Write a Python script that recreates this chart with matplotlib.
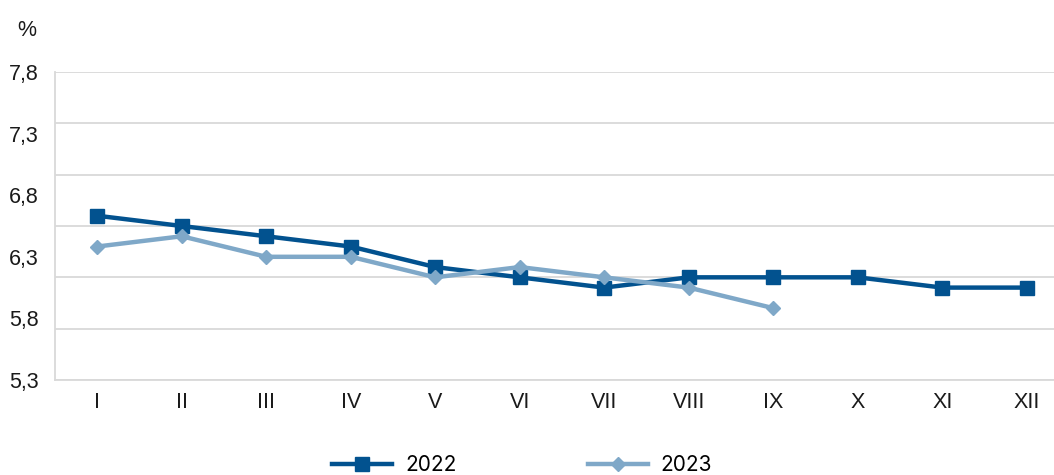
import numpy as np
import matplotlib
matplotlib.use("Agg")
import matplotlib.pyplot as plt

months = ["I", "II", "III", "IV", "V", "VI", "VII", "VIII", "IX", "X", "XI", "XII"]
values_2022 = [6.4, 6.3, 6.2, 6.1, 5.9, 5.8, 5.7, 5.8, 5.8, 5.8, 5.7, 5.7]
values_2023 = [6.1, 6.2, 6.0, 6.0, 5.8, 5.9, 5.8, 5.7, 5.5]
grid_values = [4.8, 5.3, 5.8, 6.3, 6.8, 7.3, 7.8]
y_tick_labels = ["5,3", "5,8", "6,3", "6,8", "7,3", "7,8"]

plt.rcParams['font.family'] = ['Liberation Sans', 'DejaVu Sans']

W, H = 1054, 475
fig = plt.figure(figsize=(W / 100, H / 100), dpi=100)
ax = fig.add_axes([55 / W, 1 - 380 / H, (1069 - 55) / W, (380 - 72) / H])

x = np.arange(len(months))
c22 = '#02528f'
c23 = '#7fa8c8'
ax.plot(x, values_2022, color=c22, lw=3.2, marker='s', ms=10, label='2022', zorder=3)
ax.plot(x[:len(values_2023)], values_2023, color=c23, lw=3.2, marker='D', ms=7.2, label='2023', zorder=4)

ax.set_xlim(-0.5, len(months) - 0.5)
ax.set_ylim(grid_values[0], grid_values[-1])
ax.yaxis.remove_overlapping_locs = False
ax.set_xticks(x, months)
ax.set_yticks(grid_values, [''] * len(grid_values))
ax.set_yticks(np.linspace(grid_values[0], grid_values[-1], len(y_tick_labels)), y_tick_labels, minor=True)
ax.grid(axis='y', which='major', color='#d9d9d9', lw=1.3)
ax.tick_params(axis='both', which='both', length=0, labelsize=15.5, colors='#1a1a1a')
ax.tick_params(axis='y', which='minor', pad=12)
ax.tick_params(axis='x', pad=9)
for s in ['top', 'right']:
    ax.spines[s].set_visible(False)
ax.spines['left'].set_color('#d9d9d9')
ax.spines['bottom'].set_color('#d9d9d9')
ax.spines['left'].set_linewidth(1.3)
ax.spines['bottom'].set_linewidth(1.3)

fig.text(27 / W, 1 - 30 / H, '%', ha='center', va='center', fontsize=15.5, color='#1a1a1a')

fig.legend(loc='center', bbox_to_anchor=(522 / W, 1 - 465 / H), ncol=2, frameon=False,
           prop={'family': ['Inter', 'DejaVu Sans'], 'size': 15},
           handlelength=2.9, handletextpad=0.6, columnspacing=6.3)

fig.savefig('out.png', dpi=100)
